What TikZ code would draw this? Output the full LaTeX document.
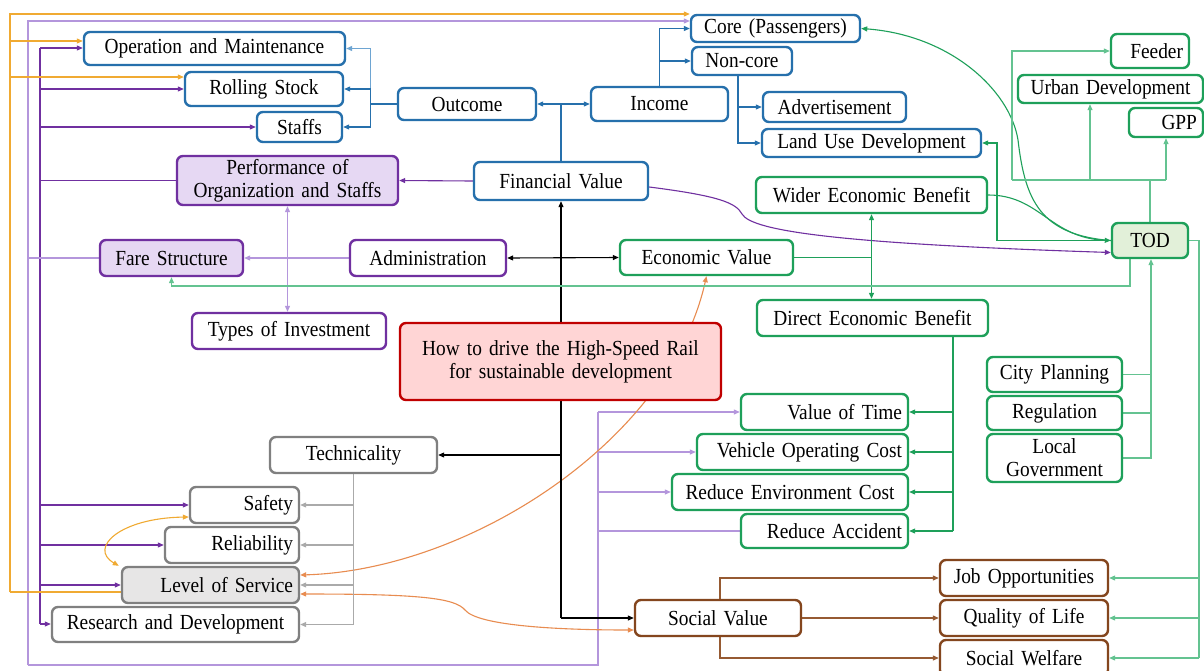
\documentclass[tikz,border=0pt]{standalone}
\usepackage{fontspec}
\setmainfont{Liberation Serif}[FakeStretch=0.9]
\usetikzlibrary{arrows.meta,calc}
\definecolor{bluec}{RGB}{38,112,172}
\definecolor{bluel}{RGB}{110,165,210}
\definecolor{purc}{RGB}{112,48,160}
\definecolor{purf}{RGB}{230,216,243}
\definecolor{purl}{RGB}{180,150,220}
\definecolor{grc}{RGB}{30,160,90}
\definecolor{grl}{RGB}{100,195,145}
\definecolor{todf}{RGB}{226,240,217}
\definecolor{redc}{RGB}{192,0,0}
\definecolor{redf}{RGB}{255,213,213}
\definecolor{brc}{RGB}{132,70,30}
\definecolor{brl}{RGB}{150,90,50}
\definecolor{grayc}{RGB}{128,128,128}
\definecolor{grayl}{RGB}{170,170,170}
\definecolor{grayf}{RGB}{231,230,230}
\definecolor{orc}{RGB}{240,170,50}
\definecolor{ord}{RGB}{232,140,80}
\pgfdeclarelayer{back}
\pgfdeclarelayer{bg}
\pgfsetlayers{back,bg,main}
\begin{document}
\begin{tikzpicture}[x=1pt,y=-1pt,
  font=\fontsize{21.5}{23}\selectfont,
  box/.style={rectangle, rounded corners=6pt, line width=2.4pt, inner xsep=6pt, inner ysep=0pt, fill=white, align=center},
  bb/.style={box, draw=bluec},
  pb/.style={box, draw=purc},
  gb/.style={box, draw=grc},
  rb/.style={box, draw=redc, fill=redf},
  brb/.style={box, draw=brc},
  gyb/.style={box, draw=grayc},
  con/.style={line width=1.1pt},
  cb/.style={con, draw=bluec},
  cbl/.style={con, draw=bluel},
  cp/.style={con, draw=purc},
  clp/.style={con, draw=purl},
  cy/.style={con, draw=orc},
  co/.style={con, draw=ord},
  ck/.style={con, draw=black},
  cg/.style={con, draw=grayl},
  cgn/.style={con, draw=grc},
  cgl/.style={con, draw=grl},
  cbr/.style={con, draw=brl},
  >={Triangle[length=6pt,width=5pt]}
]
\begin{pgfonlayer}{back}
\fill[white] (0,0) rectangle (1204,670);
\end{pgfonlayer}
\useasboundingbox (0,0) rectangle (1204,670);

% blue
\node[bb, text width=249pt, minimum height=33pt] (om) at (214.5,48.5) {Operation and Maintenance};
\node[bb, text width=146pt, minimum height=34pt] (rs) at (264,89) {Rolling Stock};
\node[bb, text width=73pt, minimum height=30pt] (st) at (299.5,127) {Staffs};
\node[bb, text width=126pt, minimum height=32pt] (out) at (467,104) {Outcome};
\node[bb, text width=125pt, minimum height=34pt] (inc) at (659.5,104) {Income};
\node[bb, text width=157pt, minimum height=27pt] (core) at (775.5,28.5) {Core (Passengers)};
\node[bb, text width=88pt, minimum height=28pt] (nonc) at (742,61) {Non-core};
\node[bb, text width=131pt, minimum height=30pt] (adv) at (834.5,107) {Advertisement};
\node[bb, text width=207pt, minimum height=28pt] (land) at (871.5,143) {Land Use Development};
\node[bb, text width=162pt, minimum height=38pt] (fin) at (561,181) {Financial Value};
% purple
\node[pb, fill=purf, text width=209pt, minimum height=49pt] (perf) at (287.5,180.5) {Performance of\\Organization and Staffs};
\node[pb, fill=purf, text width=131pt, minimum height=36pt] (fare) at (171.5,258) {Fare Structure};
\node[pb, text width=144pt, minimum height=36pt] (adm) at (428,258) {Administration};
\node[pb, text width=182pt, minimum height=36pt] (types) at (289,331) {Types of Investment};
% green
\node[gb, text width=161pt, minimum height=35pt] (eco) at (706.5,257.5) {Economic Value};
\node[gb, text width=219pt, minimum height=36pt] (wider) at (871.5,195) {Wider Economic Benefit};
\node[gb, text width=219pt, minimum height=36pt] (direct) at (872.5,318) {Direct Economic Benefit};
\node[gb, fill=todf, text width=64pt, minimum height=35pt] (tod) at (1150,240.5) {TOD};
\node[gb, text width=66pt, minimum height=34pt, align=right] (feeder) at (1150,51) {Feeder};
\node[gb, text width=173pt, minimum height=28pt] (urban) at (1110.5,89) {Urban Development};
\node[gb, text width=62pt, minimum height=29pt, align=right] (gpp) at (1166,122.5) {GPP};
\node[gb, text width=123pt, minimum height=35pt] (city) at (1054.5,374.5) {City Planning};
\node[gb, text width=123pt, minimum height=34pt] (reg) at (1054.5,413) {Regulation};
\node[gb, text width=123pt, minimum height=48pt] (lg) at (1054.5,458) {Local\\Government};
\node[gb, text width=155pt, minimum height=36pt, align=right] (vot) at (824.5,412) {Value of Time};
\node[gb, text width=199pt, minimum height=36pt, align=right] (voc) at (802.5,452) {Vehicle Operating Cost};
\node[gb, text width=224pt, minimum height=36pt] (rec) at (790,492) {Reduce Environment Cost};
\node[gb, text width=155pt, minimum height=34pt, align=right] (ra) at (824.5,531) {Reduce Accident};
% central
\node[rb, text width=309pt, minimum height=77pt] (how) at (560.5,361.5) {How to drive the High-Speed Rail\\for sustainable development};
% brown
\node[brb, text width=156pt, minimum height=36pt] (job) at (1024,578) {Job Opportunities};
\node[brb, text width=156pt, minimum height=36pt] (qol) at (1024,618) {Quality of Life};
\node[brb, text width=156pt, minimum height=36pt] (sw) at (1024,658) {Social Welfare};
\node[brb, text width=154pt, minimum height=36pt] (sv) at (718,618) {Social Value};
% gray
\node[gyb, text width=155pt, minimum height=36pt] (tech) at (353.5,455) {Technicality};
\node[gyb, text width=97pt, minimum height=36pt, align=right] (safety) at (244.5,505) {Safety};
\node[gyb, text width=122pt, minimum height=36pt, align=right] (rel) at (232,545) {Reliability};
\node[gyb, fill=grayf, text width=165pt, minimum height=36pt, align=right] (los) at (210.5,585) {Level of Service};
\node[gyb, text width=235pt, minimum height=35pt] (rd) at (175.5,624.5) {Research and Development};

% coordinates
\coordinate (pT) at (40,48);
\coordinate (pB) at (40,624);
\coordinate (lT) at (28,21);
\coordinate (lB) at (28,665);
\coordinate (lR) at (598,665);
\coordinate (lU) at (598,412);
\coordinate (oT) at (10,14);
\coordinate (oB) at (10,592);
\coordinate (oO) at (10,41);
\coordinate (oR) at (10,77);
\coordinate (kB) at (561,618);
\coordinate (kT) at (561,455);
\coordinate (gB) at (353.5,624.5);
\coordinate (dT) at (953,336);
\coordinate (dB) at (953,531);
\coordinate (lu) at (997,240.5);
\coordinate (tj) at (1150,180);
\coordinate (tF) at (1012,180);
\coordinate (tG) at (1166,180);
\coordinate (tU) at (1090,180);
\coordinate (tf) at (1130,286);
\coordinate (tR) at (1199,240.5);
\coordinate (tRB) at (1199,658);
\coordinate (cB) at (1151,458);

\begin{pgfonlayer}{bg}
% blue
\draw[cbl,->] (out.west) -- ++(-26,0) |- (om.east);
\draw[cb,->] (out.west) -- ++(-26,0) |- (rs.east);
\draw[cb,->] (out.west) -- ++(-26,0) |- (st.east);
\draw[cb,->] (fin.north) |- (out.east);
\draw[cb,->] (fin.north) |- (inc.west);
\draw[cb,->] (inc.north) |- (core.west);
\draw[cb,->] (inc.north) |- (nonc.west);
\draw[cb,->] ([xshift=-4pt]nonc.south) |- (adv.west);
\draw[cb,->] ([xshift=-4pt]nonc.south) |- (land.west);
% dark purple
\draw[cp,->] (fin.west) -- (perf.east);
\draw[cp] (perf.west) -- (perf.west -| pT);
\draw[cp] (pT) -- (pB);
\draw[cp,->] (pT) -- (pT -| om.west);
\draw[cp,->] (rs.west -| pT) -- (rs.west);
\draw[cp,->] (st.west -| pT) -- (st.west);
\draw[cp,->] (safety.west -| pT) -- (safety.west);
\draw[cp,->] (rel.west -| pT) -- (rel.west);
\draw[cp,->] (los.west -| pT) -- (los.west);
\draw[cp,->] (pB) -- (pB -| rd.west);
\draw[cp,->] ([yshift=-6pt]fin.east) .. controls (720,196) and (736,203) .. (742,214) .. controls (752,232) and (850,244) .. ([yshift=-12pt]tod.west);
% light purple
\draw[clp] (fare.west) -- (fare.west -| lT);
\draw[clp,->] (lB) -- (lT) -- (lT -| core.west);
\draw[clp] (lB) -- (lR) -- (lU);
\draw[clp,->] (lU) -- (vot.west);
\draw[clp,->] (voc.west -| lR) -- (voc.west);
\draw[clp,->] (rec.west -| lR) -- (rec.west);
\draw[clp] (ra.west -| lR) -- (ra.west);
\draw[clp,->] (adm.west) -- (fare.east);
\draw[clp,<->] (perf.south) -- (perf.south |- types.north);
% yellow-orange
\draw[cy] ([yshift=-7pt]los.west) -- (oB);
\draw[cy,->] (oB) -- (oT) -- (oT -| core.west);
\draw[cy,->] (oO) -- (oO -| om.west);
\draw[cy,->] (oR) -- (oR -| rs.west);
\draw[cy,<->] ([yshift=-12pt]safety.west) .. controls (120,518) and (88,548) .. ([xshift=-2pt]los.north west);
% dark orange
\draw[co,<->] ([yshift=10pt]los.east) .. controls (470,570) and (670,440) .. (eco.south);
\draw[co,<->] ([yshift=-9pt]los.east) .. controls (420,594) and (455,598) .. (465,610) .. controls (478,626) and (560,630) .. ([yshift=-12pt]sv.west);
% black
\draw[ck,->] (kB) -- (fin.south);
\draw[ck,->] (kB) -- (sv.west);
\draw[ck,->] (kT) -- (tech.east);
\draw[ck,<->] (adm.east) -- (eco.west);
% gray
\draw[cg] (tech.south) -- (gB);
\draw[cg,->] (gB) -- (rd.east);
\draw[cg,->] (safety.east -| gB) -- (safety.east);
\draw[cg,->] (rel.east -| gB) -- (rel.east);
\draw[cg,->] (los.east -| gB) -- (los.east);
% green
\draw[cgn] (eco.east) -- (eco.east -| wider.south);
\draw[cgn,<->] (wider.south) -- (wider.south |- direct.north);
\draw[cgn] (dT) -- (dB);
\draw[cgn,->] (dB) -- (ra.east);
\draw[cgn,->] (vot.east -| dT) -- (vot.east);
\draw[cgn,->] (voc.east -| dT) -- (voc.east);
\draw[cgn,->] (rec.east -| dT) -- (rec.east);
\draw[cgn,<-] (core.east) .. controls (950,35) and (1010,90) .. (1018,140) .. controls (1025,200) and (1040,235) .. (tod.west);
\draw[cgn,->] (wider.east) .. controls (1040,195) and (1050,238) .. (tod.west);
\draw[cgn,->] (tod.west) -- (lu) |- (land.east);
\draw[cgl] (tod.north) -- (tj);
\draw[cgl] (tF) -- (tG);
\draw[cgl,->] (tF) |- (feeder.west);
\draw[cgl,->] (tU) -- (tU |- urban.south);
\draw[cgl,->] (tG) -- (gpp.south);
\draw[cgl,->] (tf |- tod.south) -- (tf) -- (tf -| fare.south) -- (fare.south);
\draw[cgl] (tod.east) -- (tR) -- (tRB);
\draw[cgl,->] (tRB) -- (sw.east);
\draw[cgl,->] (job.east -| tR) -- (job.east);
\draw[cgl,->] (qol.east -| tR) -- (qol.east);
\draw[cgl,->] (lg.east) -- (cB) -- (cB |- tod.south);
\draw[cgl] (city.east) -- (city.east -| cB);
\draw[cgl] (reg.east) -- (reg.east -| cB);
% brown
\draw[cbr,->] ([xshift=2pt]sv.north) |- (job.west);
\draw[cbr,->] (sv.east) -- (qol.west);
\draw[cbr,->] ([xshift=2pt]sv.south) |- (sw.west);
\end{pgfonlayer}
\end{tikzpicture}
\end{document}
